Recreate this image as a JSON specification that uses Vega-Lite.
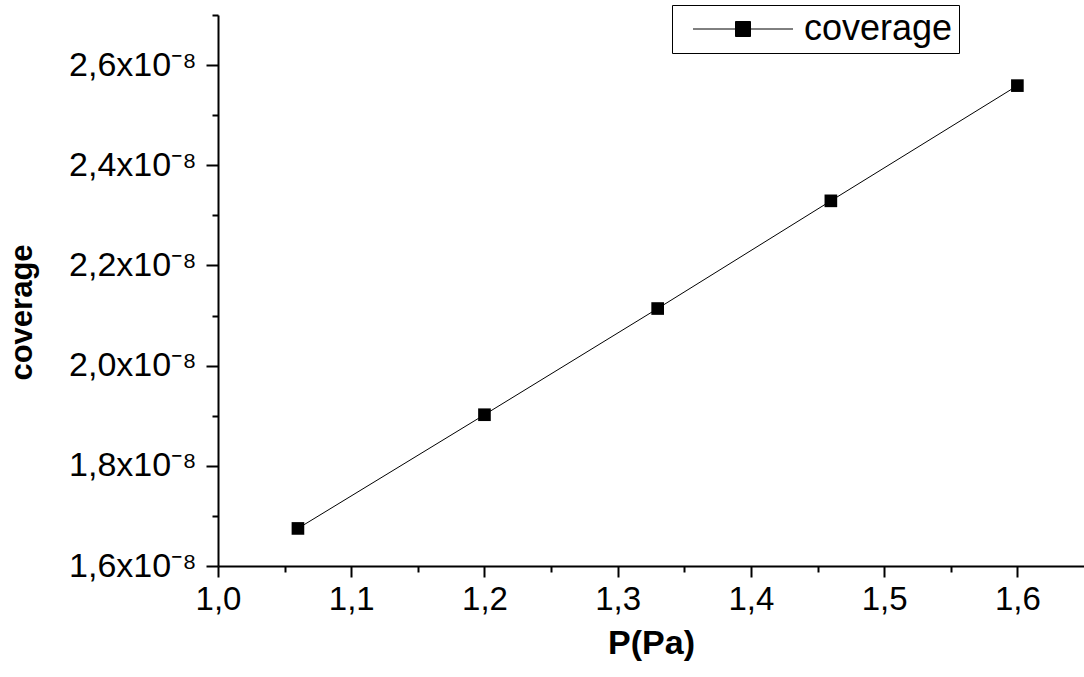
{
  "$schema": "https://vega.github.io/schema/vega-lite/v6.json",
  "width": 866,
  "height": 551,
  "autosize": {"type": "none"},
  "padding": {"left": 218, "top": 15, "right": 0, "bottom": 111},
  "background": "white",
  "config": {"view": {"stroke": null}, "font": "Liberation Sans"},
  "data": {
    "values": [
      {"P": 1.06, "coverage": 1.675e-8, "series": "coverage"},
      {"P": 1.2, "coverage": 1.902e-8, "series": "coverage"},
      {"P": 1.33, "coverage": 2.114e-8, "series": "coverage"},
      {"P": 1.46, "coverage": 2.329e-8, "series": "coverage"},
      {"P": 1.6, "coverage": 2.559e-8, "series": "coverage"}
    ]
  },
  "mark": {
    "type": "line",
    "strokeWidth": 1,
    "clip": false,
    "point": {"shape": "square", "filled": true, "size": 160, "opacity": 1}
  },
  "encoding": {
    "x": {
      "field": "P",
      "type": "quantitative",
      "scale": {"domain": [1.0, 1.65], "nice": false, "zero": false},
      "axis": {
        "title": "P(Pa)",
        "values": [1.0, 1.05, 1.1, 1.15, 1.2, 1.25, 1.3, 1.35, 1.4, 1.45, 1.5, 1.55, 1.6],
        "labelExpr": "round(datum.value*100)%10==0 ? replace(format(datum.value,'.1f'),'.',',') : ''",
        "grid": false,
        "domainColor": "black",
        "domainWidth": 2,
        "tickColor": "black",
        "tickWidth": 2,
        "tickSize": {"condition": {"test": "round(datum.value*100)%10==0", "value": 11}, "value": 6},
        "labelFont": "Liberation Sans",
        "labelFontSize": 33,
        "labelColor": "black",
        "labelBaseline": "alphabetic",
        "labelPadding": 32,
        "labelFlush": false,
        "labelOverlap": false,
        "titleFont": "Liberation Sans",
        "titleFontSize": 34,
        "titleFontWeight": "bold",
        "titleColor": "black",
        "titleX": 433,
        "titleY": 87,
        "titleBaseline": "alphabetic",
        "titleAlign": "center"
      }
    },
    "y": {
      "field": "coverage",
      "type": "quantitative",
      "scale": {"domain": [1.6e-8, 2.7e-8], "nice": false, "zero": false},
      "axis": {
        "title": "coverage",
        "values": [1.6e-8, 1.7e-8, 1.8e-8, 1.9e-8, 2.0e-8, 2.1e-8, 2.2e-8, 2.3e-8, 2.4e-8, 2.5e-8, 2.6e-8, 2.7e-8],
        "labelExpr": "round(datum.value*1e9)%2==0 ? replace(format(datum.value*1e8,'.1f'),'.',',') + 'x10⁻⁸' : ''",
        "grid": false,
        "domainColor": "black",
        "domainWidth": 2,
        "tickColor": "black",
        "tickWidth": 2,
        "tickSize": {"condition": {"test": "round(datum.value*1e9)%2==0", "value": 12}, "value": 6},
        "labelFont": "Liberation Sans",
        "labelFontSize": 34,
        "labelColor": "black",
        "labelBaseline": "middle",
        "labelPadding": 10,
        "labelFlush": false,
        "labelOverlap": false,
        "titleFont": "Liberation Sans",
        "titleFontSize": 31,
        "titleFontWeight": "bold",
        "titleColor": "black",
        "titleAngle": -90,
        "titleX": -196,
        "titleY": 297,
        "titleBaseline": "middle",
        "titleAlign": "center"
      }
    },
    "color": {
      "field": "series",
      "type": "nominal",
      "scale": {"range": ["black"]},
      "legend": {
        "title": null,
        "orient": "none",
        "legendX": 454,
        "legendY": -10,
        "strokeColor": "black",
        "fillColor": "white",
        "padding": 6,
        "symbolType": "M-5,0L5,0M-0.75,-0.75L0.75,-0.75L0.75,0.75L-0.75,0.75Z",
        "symbolSize": 400,
        "symbolOffset": 47,
        "symbolStrokeWidth": 1,
        "symbolFillColor": "black",
        "symbolStrokeColor": "black",
        "labelFont": "Liberation Sans",
        "labelFontSize": 36,
        "labelColor": "black",
        "labelOffset": 43,
        "labelExpr": "datum.label + '\u00a0\u00a0\u00a0'"
      }
    }
  }
}
